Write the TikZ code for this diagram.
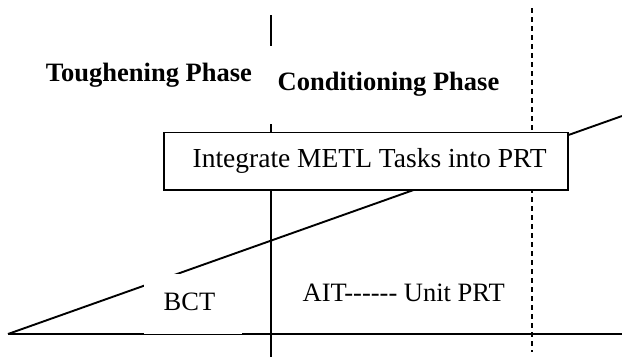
\documentclass[tikz,border=0pt]{standalone}
\usepackage{fontspec}
\setmainfont{Liberation Serif}
\begin{document}
\begin{tikzpicture}[x=1pt,y=-1pt,line width=1.9pt,
  txt/.style={font=\fontsize{26.5}{30}\selectfont, inner sep=0pt},
  boldtxt/.style={font=\bfseries\fontsize{26.5}{30}\selectfont, inner sep=0pt},
  bigtxt/.style={font=\fontsize{27.5}{30}\selectfont, inner sep=0pt},
  dashline/.style={line width=2.1pt, dash pattern=on 5pt off 4pt}]
\useasboundingbox (0,0) rectangle (622,360);
\coordinate (vtop) at (270.7,15);
\coordinate (vbot) at (270.7,357);
\coordinate (dtop) at (532.3,8);
\coordinate (dbot) at (532.3,352);
\coordinate (hl) at (8,334);
\coordinate (hr) at (622,334);
\coordinate (dr) at (622,116);
\draw (vtop) -- (vbot);
\draw[dashline] (dtop) -- (dbot);
\draw (hl) -- (hr);
\draw (hl) -- (dr);
\node[boldtxt, anchor=base west] (tough) at (45,81.7) {Toughening Phase};
\node[boldtxt, anchor=base west, fill=white, inner xsep=12pt, text height=44pt, text depth=34pt] (cond) at (264.7,90) {Conditioning Phase};
\node[txt, anchor=base west, fill=white, text height=36pt, text depth=23.6pt] (bct) at (143,310) {\hspace*{19.7pt}BCT\hspace*{26.7pt}};
\node[txt, anchor=base west] (ait) at (301.7,301.7) {AIT-{}-{}-{}-{}-{}- Unit PRT};
\node[bigtxt, draw, fill=white, anchor=north west, text height=35.5pt, text depth=22pt] (metl) at (163,131.5) {\makebox[404pt][l]{\hspace*{28.7pt}Integrate METL Tasks into PRT}};
\end{tikzpicture}
\end{document}
